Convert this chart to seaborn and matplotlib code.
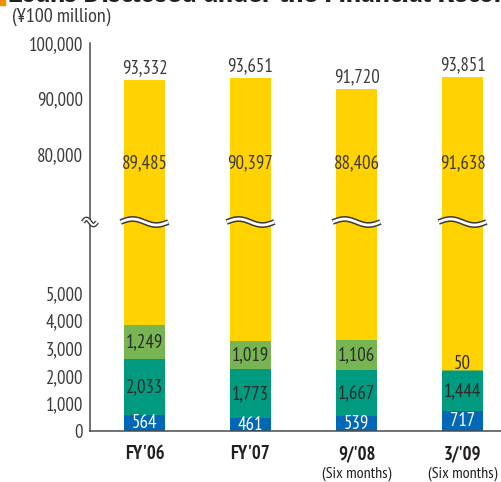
import numpy as np
import matplotlib
matplotlib.use("Agg")
import matplotlib.pyplot as plt
import matplotlib.transforms as mtransforms
import seaborn as sns

# Loans disclosed under the Financial Reconstruction Act (¥100 million)
categories = ["FY'06", "FY'07", "9/'08", "3/'09"]
period_notes = ["", "", "(Six months)", "(Six months)"]
bankrupt = [564, 461, 539, 717]          # blue
doubtful = [2033, 1773, 1667, 1444]      # teal
substandard = [1249, 1019, 1106, 50]     # light green
normal = [89485, 90397, 88406, 91638]    # yellow
totals = [93332, 93651, 91720, 93851]

upper_ticks = [80000, 90000, 100000]
lower_ticks = [0, 1000, 2000, 3000, 4000, 5000]

C_BLUE = "#0068b7"
C_TEAL = "#009a80"
C_GREEN = "#77b552"
C_YELLOW = "#ffd200"
C_TEXT = "#3e3a39"
C_AXIS = "#4a4a4a"

sns.set_style("white")
plt.rcParams["font.family"] = ["PT Sans Narrow", "DejaVu Sans"]
plt.rcParams["font.size"] = 13

fig = plt.figure(figsize=(5.01, 4.82), dpi=100)
ax_top = fig.add_axes([0.1796, 0.5394, 0.8204, 0.3714])
ax_bot = fig.add_axes([0.1796, 0.1058, 0.8204, 0.4336])

cum1 = np.array(bankrupt)
cum2 = cum1 + np.array(doubtful)
cum3 = cum2 + np.array(substandard)
tot = np.array(totals)

bar_w = 0.387
for ax in (ax_top, ax_bot):
    for vals, col in ((tot, C_YELLOW), (cum3, C_GREEN), (cum2, C_TEAL), (cum1, C_BLUE)):
        sns.barplot(x=categories, y=vals, color=col, width=bar_w, saturation=1,
                    errorbar=None, ax=ax, linewidth=0)
    ax.set_xlim(-0.514, 3.363)
    ax.set_xlabel("")
    ax.set_ylabel("")
    for s in ("top", "right"):
        ax.spines[s].set_visible(False)
    ax.spines["left"].set_color(C_AXIS)
    ax.spines["left"].set_linewidth(1.1)
    ax.tick_params(axis="y", direction="in", length=7, width=1.1, color=C_AXIS,
                   labelcolor=C_TEXT, labelsize=13.5, pad=5)

ax_top.set_ylim(67750, 100000)
ax_top.set_yticks(upper_ticks)
ax_top.set_yticklabels([f"{v:,}" for v in upper_ticks])
ax_top.spines["bottom"].set_visible(False)
ax_top.tick_params(axis="x", bottom=False, labelbottom=False)

ax_bot.set_ylim(0, 7572)
ax_bot.set_yticks(lower_ticks)
ax_bot.set_yticklabels([f"{v:,}" for v in lower_ticks])
ax_bot.spines["bottom"].set_color(C_AXIS)
ax_bot.spines["bottom"].set_linewidth(1.1)
ax_bot.tick_params(axis="x", length=0, pad=10, labelsize=13.5, labelcolor="#231f20")
for lab in ax_bot.get_xticklabels():
    lab.set_fontweight("bold")

# second line under the period labels
for i, note in enumerate(period_notes):
    if note:
        ax_bot.annotate(note, xy=(i, 0), xycoords=("data", "axes fraction"),
                        xytext=(0, -31), textcoords="offset points",
                        ha="center", va="center", fontsize=11.5, color="#231f20")

# value labels
for i in range(len(categories)):
    ax_top.annotate(f"{totals[i]:,}", xy=(i, totals[i]), xytext=(0, 2),
                    textcoords="offset points", ha="center", va="bottom",
                    color=C_TEXT, fontsize=13.5)
    ax_top.text(i, 78400, f"{normal[i]:,}", ha="center", va="center",
                color=C_TEXT, fontsize=13.5)
    if substandard[i] >= 300:
        ax_bot.text(i, cum2[i] + substandard[i] / 2, f"{substandard[i]:,}",
                    ha="center", va="center", color="#2b2b2b", fontsize=13.5)
    else:
        ax_bot.annotate(f"{substandard[i]:,}", xy=(i, cum3[i]), xytext=(0, 1),
                        textcoords="offset points", ha="center", va="baseline",
                        color="#2b2b2b", fontsize=13.5)
    ax_bot.text(i, cum1[i] + doubtful[i] / 2, f"{doubtful[i]:,}",
                ha="center", va="center", color="#2b2b2b", fontsize=13.5)
    ax_bot.text(i, bankrupt[i] / 2, f"{bankrupt[i]:,}",
                ha="center", va="center", color="white", fontsize=13.5)

# break markers: wavy white bands across the bars and the axis
t = np.linspace(0, 2 * np.pi, 80)
trans_bar = mtransforms.blended_transform_factory(ax_bot.transData, ax_bot.transAxes)
amp = 3.0 / 209.0
for i in range(len(categories)):
    xs = i + (t / (2 * np.pi) - 0.5) * 0.45
    ys = 1.0 + amp * np.sin(t)
    ax_bot.plot(xs, ys, transform=trans_bar, color="#3a3a3a", lw=4.2,
                solid_capstyle="butt", clip_on=False, zorder=5)
    ax_bot.plot(xs, ys, transform=trans_bar, color="white", lw=2.0,
                solid_capstyle="butt", clip_on=False, zorder=6)
xa = (t / (2 * np.pi) - 0.5) * (14.0 / 411.0)
ya = 1.0 + amp * np.sin(t)
ax_bot.plot(xa, ya, transform=ax_bot.transAxes, color="#3a3a3a", lw=3.4,
            solid_capstyle="butt", clip_on=False, zorder=5)
ax_bot.plot(xa, ya, transform=ax_bot.transAxes, color="white", lw=1.5,
            solid_capstyle="butt", clip_on=False, zorder=6)

# heading and unit
fig.patches.append(plt.Rectangle((0, 1 - 5 / 482), 5 / 501, 5 / 482,
                                 transform=fig.transFigure, color="#f08c00"))
fig.text(8 / 501, 1.0 - 2 / 482, "Loans Disclosed under the Financial Reconstruction Act",
         fontsize=24, fontweight="bold", color="#231f20", ha="left", va="baseline")
fig.text(12 / 501, 1.0 - 17 / 482, "(¥100 million)", fontsize=14.5, color=C_TEXT,
         ha="left", va="center")

fig.savefig("out.png", dpi=100)
